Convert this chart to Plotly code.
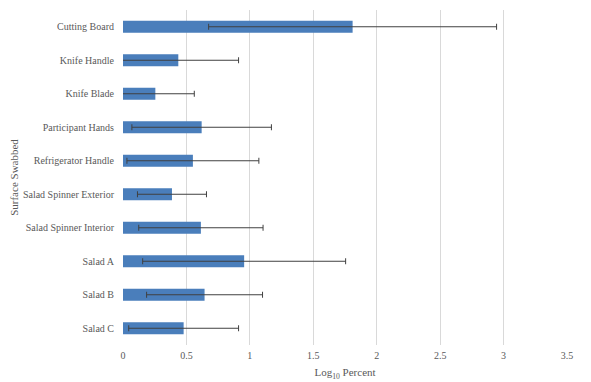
import plotly.graph_objects as go

categories = ["Cutting Board", "Knife Handle", "Knife Blade", "Participant Hands",
              "Refrigerator Handle", "Salad Spinner Exterior", "Salad Spinner Interior",
              "Salad A", "Salad B", "Salad C"]
values = [1.81, 0.436, 0.255, 0.62, 0.551, 0.386, 0.614, 0.955, 0.643, 0.478]
errors = [1.135, 0.475, 0.307, 0.55, 0.52, 0.272, 0.49, 0.80, 0.457, 0.433]
x_ticks = [0, 0.5, 1, 1.5, 2, 2.5, 3, 3.5]
x_tick_labels = ["0", "0.5", "1", "1.5", "2", "2.5", "3", "3.5"]

font_family = "Times New Roman"
text_color = "#595959"

fig = go.Figure(go.Bar(
    x=values, y=categories, orientation="h",
    marker=dict(color="#4a7ebb", line=dict(width=0)),
    width=0.36,
    error_x=dict(type="data", array=errors, visible=True,
                 color="#404040", thickness=1, width=3),
))

fig.update_layout(
    width=591, height=382,
    margin=dict(l=123, r=24, t=10, b=37),
    paper_bgcolor="white", plot_bgcolor="white",
    font=dict(family=font_family, size=10, color=text_color),
    showlegend=False,
    xaxis=dict(
        range=[0, 3.5], tickvals=x_ticks, ticktext=x_tick_labels,
        showgrid=True, gridcolor="#d9d9d9", gridwidth=1,
        zeroline=False, showline=False, ticks="",
        automargin=False,
        ticklabelstandoff=3,
        tickfont=dict(family=font_family, size=10, color=text_color),
        title=dict(text="Log<sub>10</sub> Percent", font=dict(family=font_family, size=11, color=text_color), standoff=8),
    ),
    yaxis=dict(
        categoryorder="array", categoryarray=categories, autorange="reversed",
        showgrid=False, zeroline=False, showline=False, ticks="",
        automargin=False,
        ticklabelstandoff=8,
        tickfont=dict(family=font_family, size=10, color=text_color),
        title=dict(text="Surface Swabbed", font=dict(family=font_family, size=11, color=text_color), standoff=2),
    ),
)

fig.write_html("out.html", config={"displayModeBar": False},
               post_script="document.body.style.margin='0';document.body.style.padding='0';")
